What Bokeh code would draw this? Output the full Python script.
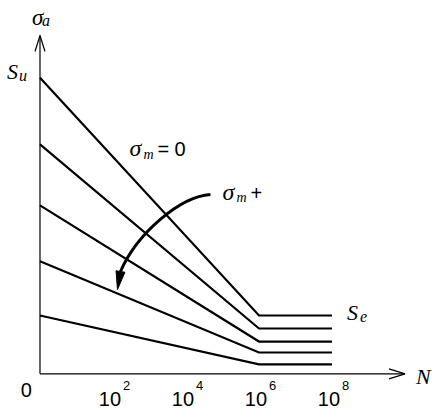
from bokeh.plotting import figure
from bokeh.models import Range1d
from bokeh.core.properties import value
from bokeh.embed import file_html
from bokeh.resources import INLINE

# ---------------- data ----------------
log_n_start = 0          # N = 10^0
log_n_knee = 6           # N = 10^6 (knee)
log_n_end = 8            # N = 10^8
sa_start = [100.0, 77.5, 56.9, 38.0, 19.7]   # sigma_a at N=1 (Su = 100) for increasing sigma_m
sa_knee = [19.7, 15.3, 10.9, 7.2, 3.2]       # endurance limit Se for increasing sigma_m
tick_exps = [2, 4, 6, 8]
tick_base = ["10", "10", "10", "10"]
tick_sup = ["2", "4", "6", "8"]
x_axis_end = 10.0
y_axis_end = 114.3

# label anchors (data units)
sm0_pos = (2.452, 73.75)
smp_pos = (5.0, 59.2)
# curved "sigma_m +" arrow (data units)
arc_p0 = (4.671, 60.57)
arc_c0 = (3.849, 59.90)
arc_c1 = (2.671, 47.74)
arc_p1 = (2.205, 34.56)
arc_tip = (2.123, 28.48)

# ---------------- figure ----------------
W, H = 437, 412
X0, X1 = -1.082, 10.890
Y0, Y1 = -13.07, 126.11
px_x = W / (X1 - X0)
px_y = H / (Y1 - Y0)

p = figure(width=W, height=H, output_backend="svg", toolbar_location=None,
           x_range=Range1d(X0, X1), y_range=Range1d(Y0, Y1),
           x_axis_location=None, y_axis_location=None, min_border=0)
p.grid.visible = False
p.outline_line_color = None
p.background_fill_color = "white"
p.border_fill_color = "white"

# S-N curves
xs = [[log_n_start, log_n_knee, log_n_end] for _ in sa_start]
ys = [[s, k, k] for s, k in zip(sa_start, sa_knee)]
p.multi_line(xs, ys, line_color="black", line_width=2.2, line_join="miter")

# axes
p.line([0, x_axis_end], [0, 0], line_color="black", line_width=1.2)
p.line([0, 0], [0, y_axis_end], line_color="black", line_width=1.2)
hl, hw = 16, 5
p.line([x_axis_end - hl / px_x, x_axis_end, x_axis_end - hl / px_x],
       [hw / px_y, 0, -hw / px_y], line_color="black", line_width=1.2)
p.line([-hw / px_x, 0, hw / px_x],
       [y_axis_end - hl / px_y, y_axis_end, y_axis_end - hl / px_y],
       line_color="black", line_width=1.2)

# curved arrow
p.bezier(x0=[arc_p0[0]], y0=[arc_p0[1]], x1=[arc_p1[0]], y1=[arc_p1[1]],
         cx0=[arc_c0[0]], cy0=[arc_c0[1]], cx1=[arc_c1[0]], cy1=[arc_c1[1]],
         line_color="black", line_width=3)
dxp = (arc_tip[0] - arc_p1[0]) * px_x
dyp = (arc_tip[1] - arc_p1[1]) * px_y
ln = (dxp ** 2 + dyp ** 2) ** 0.5
perp = (-dyp / ln, dxp / ln)
half = 4.5
p.patch([arc_p1[0] + perp[0] * half / px_x, arc_tip[0], arc_p1[0] - perp[0] * half / px_x],
        [arc_p1[1] + perp[1] * half / px_y, arc_tip[1], arc_p1[1] - perp[1] * half / px_y],
        fill_color="black", line_color="black", line_width=1)

SERIF = "Liberation Serif"
SANS = "Liberation Sans"


def txt(x, y, s, font, size, style="normal", align="left", xo=0, yo=0):
    # yo is the wanted baseline offset; compensate the renderer's anchor shift
    p.text(x=[x], y=[y], text=[s], text_font=value(font), text_font_size=f"{size}px",
           text_font_style=style, text_align=align, text_baseline="alphabetic",
           x_offset=xo, y_offset=yo - round(0.3 * size), text_color="black")


# tick labels
for e, b, s in zip(tick_exps, tick_base, tick_sup):
    txt(e, 0, b, SANS, 20, align="right", xo=8, yo=31)
    txt(e, 0, s, SANS, 13, align="left", xo=10, yo=16)
txt(0, 0, "0", SANS, 20, align="right", xo=-8, yo=22)

# axis titles
txt(0, y_axis_end, "σ", SERIF, 23, "italic", xo=-8, yo=-11)
txt(0, y_axis_end, "a", SERIF, 16, "italic", xo=2, yo=-10)
txt(x_axis_end, 0, "N", SERIF, 22, "italic", xo=11, yo=10)

# Su and Se
txt(0, sa_start[0], "S", SERIF, 22, "italic", xo=-33, yo=1)
txt(0, sa_start[0], "u", SERIF, 16, "italic", xo=-21, yo=3)
txt(log_n_end, sa_knee[0], "S", SERIF, 22, "italic", xo=15, yo=4)
txt(log_n_end, sa_knee[0], "e", SERIF, 16, "italic", xo=28, yo=6)

# sigma_m labels
txt(sm0_pos[0], sm0_pos[1], "σ", SERIF, 24, "italic")
txt(sm0_pos[0], sm0_pos[1], "m", SERIF, 14, "italic", xo=14, yo=3)
txt(sm0_pos[0], sm0_pos[1], "=", SANS, 20, xo=28)
txt(sm0_pos[0], sm0_pos[1], "0", SANS, 20, xo=45)

txt(smp_pos[0], smp_pos[1], "σ", SERIF, 24, "italic")
txt(smp_pos[0], smp_pos[1], "m", SERIF, 14, "italic", xo=14, yo=3)
txt(smp_pos[0], smp_pos[1], "+", SANS, 20, xo=28)

open("out.html", "w").write(file_html(p, INLINE))
